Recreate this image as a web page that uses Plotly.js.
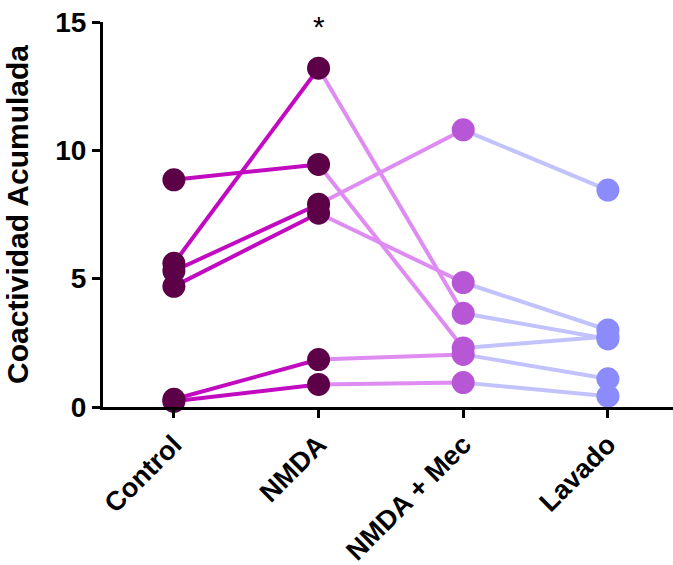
<!DOCTYPE html>
<html>
<head>
<meta charset="utf-8">
<script src="https://cdn.plot.ly/plotly-3.0.1.min.js"></script>
<style>
  html, body { margin: 0; padding: 0; background: #fff; }
  #chart { width: 673px; height: 565px; }
</style>
</head>
<body>
<div id="chart"></div>
<script>
// Condition labels along the x axis
const conditions = ["Control", "NMDA", "NMDA + Mec", "Lavado"];

// Accumulated coactivity per preparation (same order in every array)
const control = [8.85, 5.6, 5.3, 4.7, 0.3, 0.22];
const nmda    = [9.45, 13.2, 7.9, 7.55, 1.85, 0.88];
const mec     = [2.3, 3.65, 10.8, 4.85, 2.05, 0.95];
const lavado  = [2.75, 2.65, 8.45, 3.0, 1.1, 0.42];

const yTicks = [0, 5, 10, 15];

const series = [control, nmda, mec, lavado];
const markerColors = ["#5c0047", "#5c0047", "#b857d6", "#8b8bfc"];
const segmentColors = ["#c20ac0", "#de8cf2", "#c2c2fc"];

const FONT = "Arial, 'Liberation Sans', sans-serif";

const traces = [];

// Connecting segments between consecutive conditions (drawn below the dots)
for (let s = 0; s < 3; s++) {
  const xs = [], ys = [];
  const a = series[s], b = series[s + 1];
  for (let i = 0; i < a.length; i++) {
    xs.push(conditions[s], conditions[s + 1], null);
    ys.push(a[i], b[i], null);
  }
  traces.push({
    type: "scatter", mode: "lines", x: xs, y: ys,
    line: { color: segmentColors[s], width: 4 },
    connectgaps: false, hoverinfo: "skip", cliponaxis: false, showlegend: false
  });
}

// Individual values per condition
series.forEach((vals, s) => {
  traces.push({
    type: "scatter", mode: "markers",
    x: vals.map(() => conditions[s]), y: vals,
    marker: { color: markerColors[s], size: 23, line: { width: 0 } },
    cliponaxis: false, showlegend: false
  });
});

const layout = {
  width: 673, height: 565,
  margin: { l: 103, r: 0, t: 22, b: 158 },
  paper_bgcolor: "#fff", plot_bgcolor: "#fff",
  font: { family: FONT, color: "#000" },
  xaxis: {
    type: "category", categoryarray: conditions,
    range: [-0.49, 3.45],
    showgrid: false, zeroline: false,
    showline: true, linecolor: "#000", linewidth: 3,
    ticks: "outside", ticklen: 8, tickwidth: 3, tickcolor: "#000",
    tickangle: -45,
    tickfont: { family: FONT, size: 27, color: "#000", weight: "bold" }
  },
  yaxis: {
    range: [0, 15], tickvals: yTicks, ticktext: yTicks.map(String),
    showgrid: false, zeroline: false,
    showline: true, linecolor: "#000", linewidth: 3,
    ticks: "outside", ticklen: 8, tickwidth: 3, tickcolor: "#000",
    tickfont: { family: FONT, size: 28, color: "#000", weight: "bold" },
    title: {
      text: "Coactividad Acumulada",
      font: { family: FONT, size: 30, color: "#000", weight: "bold" },
      standoff: 18
    }
  },
  annotations: [{
    x: "NMDA", y: 15, xref: "x", yref: "y",
    text: "*", showarrow: false, yanchor: "middle", yshift: -4,
    font: { family: FONT, size: 30, color: "#000" }
  }]
};

Plotly.newPlot("chart", traces, layout, { displayModeBar: false, staticPlot: true });
</script>
</body>
</html>
